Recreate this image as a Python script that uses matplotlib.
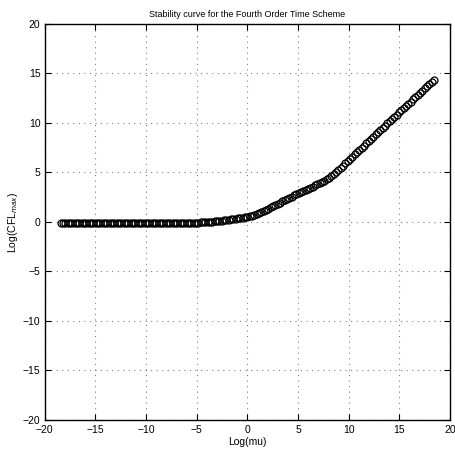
import numpy as np
import matplotlib.pyplot as plt

plt.rcParams['font.family'] = ['Liberation Sans', 'DejaVu Sans']

# mu sampled logarithmically from 1e-8 to 1e8, ten points per decade
mu = np.logspace(-8, 8, 161)
log_mu = np.log(mu)

log_cfl_max = [
    -0.12, -0.12, -0.12, -0.12, -0.12, -0.12, -0.12, -0.12, -0.12, -0.12,
    -0.12, -0.12, -0.12, -0.12, -0.12, -0.12, -0.12, -0.12, -0.12, -0.12,
    -0.12, -0.12, -0.12, -0.12, -0.12, -0.12, -0.12, -0.12, -0.12, -0.12,
    -0.12, -0.12, -0.12, -0.12, -0.12, -0.12, -0.12, -0.12, -0.12, -0.12,
    -0.12, -0.12, -0.12, -0.12, -0.12, -0.12, -0.12, -0.12, -0.12, -0.12,
    -0.12, -0.12, -0.12, -0.12, -0.11, -0.11, -0.10, -0.09, -0.08, -0.07,
    -0.05, -0.04, -0.02, -0.01, 0.01, 0.03, 0.05, 0.07, 0.10, 0.13,
    0.16, 0.19, 0.22, 0.25, 0.28, 0.31, 0.35, 0.38, 0.42, 0.46,
    0.50, 0.56, 0.64, 0.72, 0.81, 0.91, 1.01, 1.12, 1.23, 1.35,
    1.47, 1.59, 1.71, 1.83, 1.95, 2.07, 2.19, 2.31, 2.43, 2.55,
    2.67, 2.79, 2.91, 3.02, 3.13, 3.24, 3.35, 3.46, 3.57, 3.68,
    3.79, 3.90, 4.02, 4.16, 4.31, 4.48, 4.66, 4.85, 5.05, 5.26,
    5.47, 5.69, 5.91, 6.13, 6.36, 6.58, 6.81, 7.03, 7.26, 7.48,
    7.71, 7.93, 8.16, 8.38, 8.61, 8.83, 9.06, 9.28, 9.51, 9.73,
    9.96, 10.18, 10.40, 10.62, 10.84, 11.06, 11.28, 11.50, 11.72, 11.94,
    12.16, 12.38, 12.60, 12.82, 13.04, 13.26, 13.48, 13.70, 13.92, 14.14,
    14.36,
]

ticks = [-20, -15, -10, -5, 0, 5, 10, 15, 20]

fig = plt.figure(figsize=(4.55, 4.51), dpi=100)
ax = fig.add_axes([0.098, 0.069, 0.891, 0.878])

ax.plot(log_mu, log_cfl_max, 'o', mfc='none', mec='black', ms=5, mew=0.9)

ax.set_xlim(-20, 20)
ax.set_ylim(-20, 20)
ax.set_xticks(ticks)
ax.set_yticks(ticks)
ax.tick_params(direction='in', top=True, right=True, length=4, width=0.8,
               labelsize=7.5)
ax.tick_params(axis='x', pad=4)
ax.tick_params(axis='y', pad=3)
ax.grid(True, linestyle=(0, (1, 4)), color='black', linewidth=0.8, alpha=0.5)
for s in ax.spines.values():
    s.set_linewidth(1.0)

ax.set_title('Stability curve for the Fourth Order Time Scheme', fontsize=6.5, pad=5)
ax.set_xlabel('Log(mu)', fontsize=7.5, labelpad=1)
ax.set_ylabel('Log(CFL$_{max}$)', fontsize=7.5, labelpad=2)

fig.savefig('out.png', dpi=100)
